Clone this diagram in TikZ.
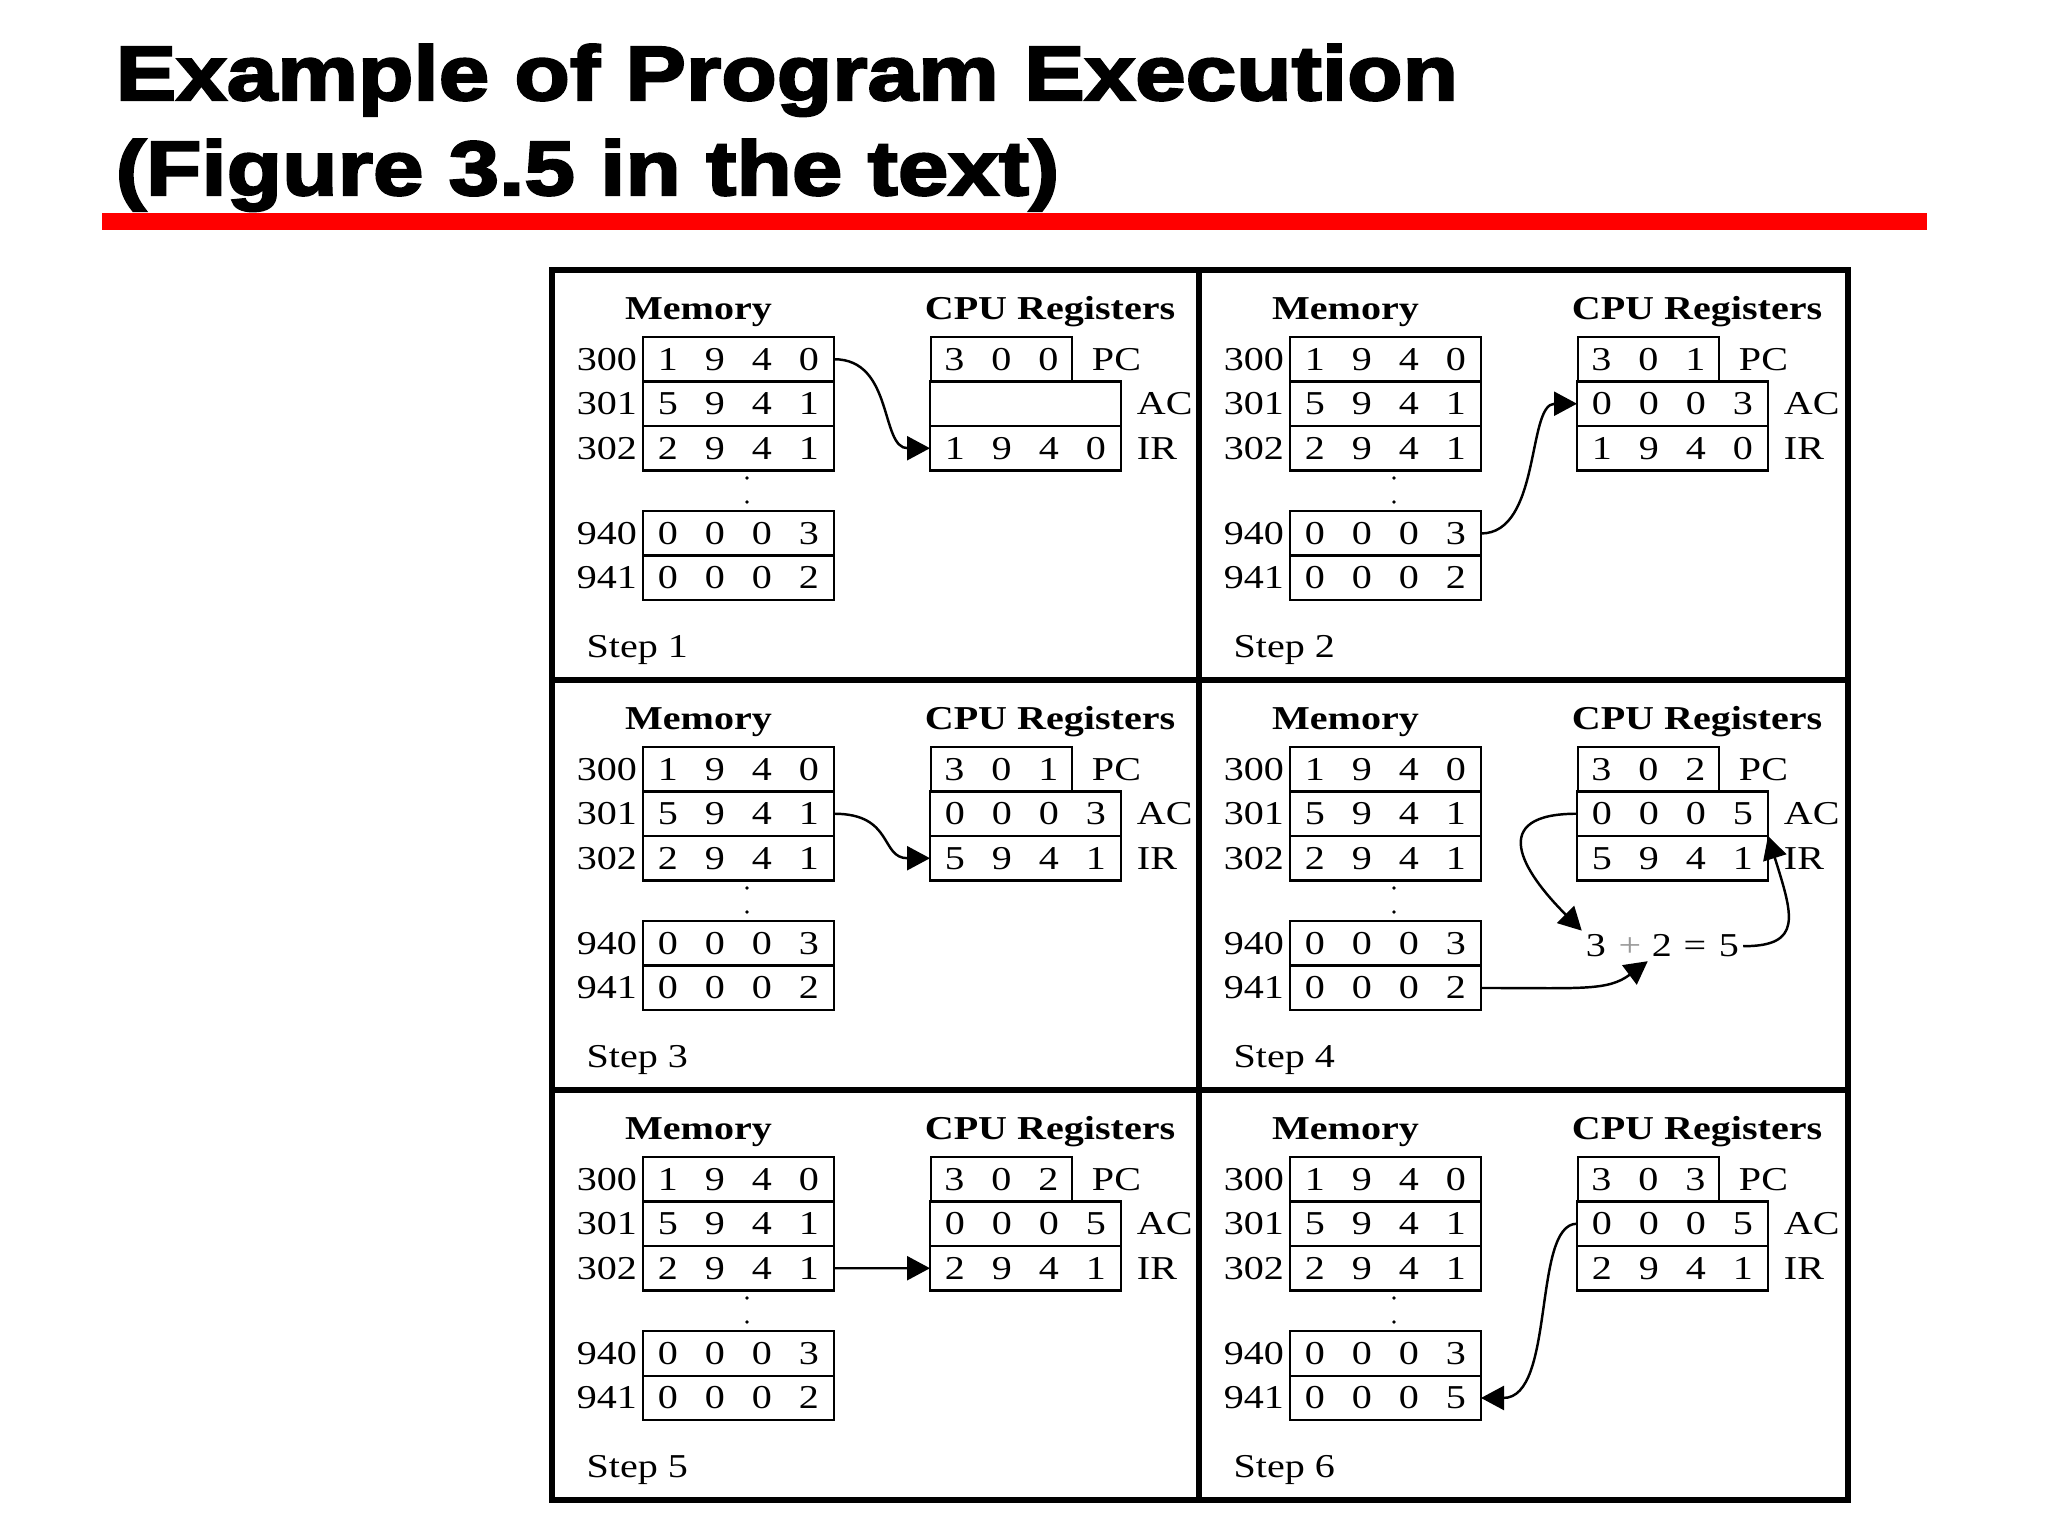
\documentclass[tikz,border=0pt]{standalone}
\usepackage{fontspec}
\setmainfont{Liberation Serif}
\newfontfamily\figfont[FakeStretch=1.2]{Liberation Serif}
\newfontfamily\titlefont[FakeStretch=1.18,FakeBold=3]{Liberation Sans}
\usetikzlibrary{arrows.meta,positioning}

\tikzset{
  frame/.style={line width=1.5pt},
  cell/.style={draw, line width=0.7pt, minimum width=1.91cm, minimum height=0.445cm, inner sep=0pt, outer sep=0pt},
  pcbox/.style={cell, minimum width=1.41cm},
  addr/.style={inner sep=1.5pt},
  reglabel/.style={inner sep=1.5pt},
  boxtitle/.style={font=\figfont\fontsize{9.5}{11}\selectfont\bfseries, anchor=base, inner sep=0pt},
  sumpart/.style={anchor=base, inner sep=1pt},
  flow/.style={line width=0.7pt, -{Triangle[length=2.3mm,width=2.4mm]}},
}

% one digit, one word in memory / PC
\newcommand{\digitbox}[1]{\makebox[4.7mm]{#1}}
\newcommand{\memword}[4]{\digitbox{#1}\digitbox{#2}\digitbox{#3}\digitbox{#4}}
\newcommand{\pcword}[3]{\digitbox{#1}\digitbox{#2}\digitbox{#3}}

% memory and registers of one step: PC, AC, IR, word 941, step number
\newcommand{\cpustate}[5]{%
  \node[boxtitle] (memtitle) at (1.465,-0.50) {Memory};
  \node[boxtitle] (cputitle) at (4.98,-0.50) {CPU Registers};
  % Memory
  \node[cell] (m300) at (1.865,-0.8925) {\memword{1}{9}{4}{0}};
  \node[cell, below=0pt of m300] (m301) {\memword{5}{9}{4}{1}};
  \node[cell, below=0pt of m301] (m302) {\memword{2}{9}{4}{1}};
  \node[cell] (m940) at (1.865,-2.635) {\memword{0}{0}{0}{3}};
  \node[cell, below=0pt of m940] (m941) {#4};
  \node[addr, left=0pt of m300] (a300) {300};
  \node[addr, left=0pt of m301] (a301) {301};
  \node[addr, left=0pt of m302] (a302) {302};
  \node[addr, left=0pt of m940] (a940) {940};
  \node[addr, left=0pt of m941] (a941) {941};
  \fill (1.95,-2.08) circle (0.018);
  \fill (1.95,-2.32) circle (0.018);
  % CPU registers
  \node[pcbox] (pc) at (4.495,-0.8925) {#1};
  \node[cell] (ac) at (4.735,-1.3375) {#2};
  \node[cell, below=0pt of ac] (ir) {#3};
  \node[reglabel, right=0.14cm of pc] (pclabel) {PC};
  \node[reglabel, right=0.10cm of ac] (aclabel) {AC};
  \node[reglabel, right=0.10cm of ir] (irlabel) {IR};
  \node[anchor=base west, inner sep=0pt] (steplabel) at (0.34,-3.88) {Step #5};
}

\begin{document}
\begin{tikzpicture}[font=\figfont\fontsize{9.5}{11}\selectfont]
    \useasboundingbox (0,0) rectangle (20.48,15.36);
    % Title
    \node[anchor=base west, inner sep=0pt, font=\titlefont\fontsize{21.9}{26}\selectfont\bfseries] (title1) at (1.15,14.36) {Example of Program Execution};
    \node[anchor=base west, inner sep=0pt, font=\titlefont\fontsize{21.9}{26}\selectfont\bfseries] (title2) at (1.15,13.41) {(Figure 3.5 in the text)};
    \fill[red] (1.02,13.06) rectangle (19.27,13.23);

    % Frame of the six steps
    \draw[frame] (5.52,0.36) rectangle (18.48,12.66);
    \draw[frame] (11.99,0.36) -- (11.99,12.66);
    \draw[frame] (5.52,4.46) -- (18.48,4.46);
    \draw[frame] (5.52,8.56) -- (18.48,8.56);

    % Step 1: fetch 1940
    \begin{scope}[shift={(5.52,12.66)}]
        \cpustate{\pcword{3}{0}{0}}{}{\memword{1}{9}{4}{0}}{\memword{0}{0}{0}{2}}{1}
        \draw[flow] (m300.east) .. controls +(0.6,0) and +(-0.5,0) .. (ir.west);
    \end{scope}

    % Step 2: load AC from 940
    \begin{scope}[shift={(11.99,12.66)}]
        \cpustate{\pcword{3}{0}{1}}{\memword{0}{0}{0}{3}}{\memword{1}{9}{4}{0}}{\memword{0}{0}{0}{2}}{2}
        \draw[flow] (m940.east) .. controls +(0.6,0) and +(-0.5,0) .. (ac.west);
    \end{scope}

    % Step 3: fetch 5941
    \begin{scope}[shift={(5.52,8.56)}]
        \cpustate{\pcword{3}{0}{1}}{\memword{0}{0}{0}{3}}{\memword{5}{9}{4}{1}}{\memword{0}{0}{0}{2}}{3}
        \draw[flow] (m301.east) .. controls +(0.6,0) and +(-0.5,0) .. (ir.west);
    \end{scope}

    % Step 4: add 941 to AC
    \begin{scope}[shift={(11.99,8.56)}]
        \cpustate{\pcword{3}{0}{2}}{\memword{0}{0}{0}{5}}{\memword{5}{9}{4}{1}}{\memword{0}{0}{0}{2}}{4}
        \node[sumpart] (three) at (3.97,-2.77) {3};
        \node[sumpart, black!40] (plus) at (4.31,-2.77) {+};
        \node[sumpart] (two) at (4.63,-2.77) {2};
        \node[sumpart] (equals) at (4.96,-2.77) {=};
        \node[sumpart] (five) at (5.30,-2.77) {5};
        \draw[flow] (ac.west) .. controls +(-0.9,0) and +(-0.6,0.6) .. (three.north west);
        \draw[flow] (m941.east) .. controls +(1.0,0) and +(-0.4,-0.3) .. (two.south west);
        \draw[flow] (five.east) .. controls +(0.6,0) and +(0.25,-0.8) .. (ac.south east);
    \end{scope}

    % Step 5: fetch 2941
    \begin{scope}[shift={(5.52,4.46)}]
        \cpustate{\pcword{3}{0}{2}}{\memword{0}{0}{0}{5}}{\memword{2}{9}{4}{1}}{\memword{0}{0}{0}{2}}{5}
        \draw[flow] (m302.east) -- (ir.west);
    \end{scope}

    % Step 6: store AC to 941
    \begin{scope}[shift={(11.99,4.46)}]
        \cpustate{\pcword{3}{0}{3}}{\memword{0}{0}{0}{5}}{\memword{2}{9}{4}{1}}{\memword{0}{0}{0}{5}}{6}
        \draw[flow] (ac.west) .. controls +(-0.45,0) and +(0.75,0) .. (m941.east);
    \end{scope}
\end{tikzpicture}
\end{document}
